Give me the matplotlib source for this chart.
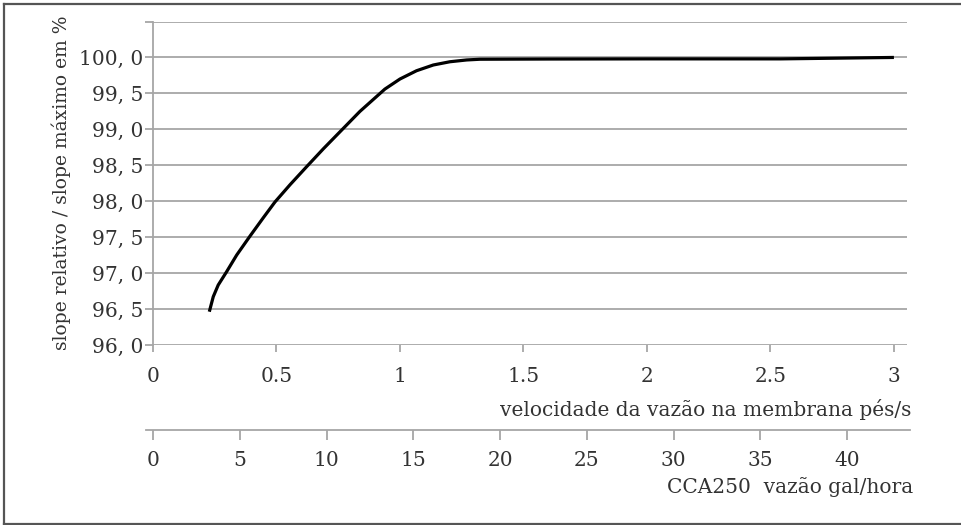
import matplotlib
matplotlib.use("Agg")
import matplotlib.pyplot as plt
from matplotlib.lines import Line2D

# Data
velocity_fts = [0.228, 0.244, 0.264, 0.298, 0.339, 0.393, 0.447, 0.494, 0.555,
                0.622, 0.690, 0.764, 0.838, 0.939, 1.0, 1.067, 1.135, 1.202,
                1.27, 1.324, 1.6, 2.0, 2.54, 3.0]
slope_pct = [96.463, 96.672, 96.834, 97.019, 97.252, 97.516, 97.772, 97.99, 98.23,
             98.48, 98.73, 98.99, 99.25, 99.56, 99.70, 99.815, 99.895, 99.94,
             99.965, 99.975, 99.978, 99.98, 99.98, 100.0]

y_ticks = [96.0, 96.5, 97.0, 97.5, 98.0, 98.5, 99.0, 99.5, 100.0, 100.5]
y_tick_labels = ["96, 0", "96, 5", "97, 0", "97, 5", "98, 0", "98, 5",
                 "99, 0", "99, 5", "100, 0", ""]
x_ticks = [0, 0.5, 1, 1.5, 2, 2.5, 3]
x_tick_labels = ["0", "0.5", "1", "1.5", "2", "2.5", "3"]
gal_ticks = [0, 5, 10, 15, 20, 25, 30, 35, 40]
gal_tick_labels = ["0", "5", "10", "15", "20", "25", "30", "35", "40"]
gal_per_fts = 14.23  # conversion CCA250: gal/h per ft/s

y_label = "slope relativo / slope máximo em %"
x_label = "velocidade da vazão na membrana pés/s"
x2_label = "CCA250  vazão gal/hora"

W, H = 962, 525
FONT = "DejaVu Serif"
TXT = "#333333"
GRID = "#a6a6a6"
FS = 14.5

fig = plt.figure(figsize=(W / 100, H / 100), dpi=100)

# main axes: pixel box 153..907 x 21..345
L, R, T, B = 153, 907, 21.5, 345
ax = fig.add_axes([L / W, 1 - B / H, (R - L) / W, (B - T) / H])
x_max = 3.053
ax.set_xlim(0, x_max)
ax.set_ylim(96.0, 100.5)
ax.plot(velocity_fts, slope_pct, color="black", lw=2.3,
        solid_capstyle="butt", solid_joinstyle="round")

ax.set_yticks(y_ticks)
ax.set_yticklabels(y_tick_labels, fontfamily=FONT, fontsize=FS, color=TXT)
ax.set_xticks(x_ticks)
ax.set_xticklabels(x_tick_labels, fontfamily=FONT, fontsize=FS, color=TXT)
ax.yaxis.grid(True, color=GRID, lw=1.3)
ax.set_axisbelow(True)
ax.tick_params(axis="y", length=6, width=1.3, color=GRID, pad=1)
ax.tick_params(axis="x", length=5, width=1.3, color=GRID, pad=11)
for s in ["top", "right", "bottom"]:
    ax.spines[s].set_visible(False)
ax.spines["left"].set_color(GRID)
ax.spines["left"].set_linewidth(1.3)

ax.set_ylabel(y_label, fontfamily=FONT, fontsize=13.5, color=TXT, labelpad=6)

fig.text(911 / W, 1 - 410 / H, x_label, ha="right", va="center",
         fontfamily=FONT, fontsize=FS, color=TXT)

# secondary axis (gal/h)
L2, R2 = 145.7, 910
ax2 = fig.add_axes([L2 / W, 1 - 430 / H, (R2 - L2) / W, 0.0001])
px_per_gal = (R - L) / (x_max * gal_per_fts)
ax2.set_xlim(-(L - L2) / px_per_gal, (R - L) / px_per_gal + (R2 - R) / px_per_gal)
ax2.set_yticks([])
ax2.set_xticks(gal_ticks)
ax2.set_xticklabels(gal_tick_labels, fontfamily=FONT, fontsize=FS, color=TXT)
ax2.tick_params(axis="x", length=7, width=1.3, color=GRID, pad=8)
for s in ["top", "right", "left"]:
    ax2.spines[s].set_visible(False)
ax2.spines["bottom"].set_color(GRID)
ax2.spines["bottom"].set_linewidth(1.3)
ax2.patch.set_visible(False)

fig.text(913 / W, 1 - 487 / H, x2_label, ha="right", va="center",
         fontfamily=FONT, fontsize=FS, color=TXT)

# figure border
bc = "#555555"
fig.add_artist(Line2D([3.5 / W, 3.5 / W], [1 - 3.5 / H, 1 - 523.5 / H], color=bc, lw=1.6, transform=fig.transFigure))
fig.add_artist(Line2D([3.5 / W, 1.0], [1 - 3.5 / H, 1 - 3.5 / H], color=bc, lw=1.6, transform=fig.transFigure))
fig.add_artist(Line2D([3.5 / W, 1.0], [1 - 523.5 / H, 1 - 523.5 / H], color=bc, lw=1.6, transform=fig.transFigure))

fig.savefig("out.png", dpi=100)
